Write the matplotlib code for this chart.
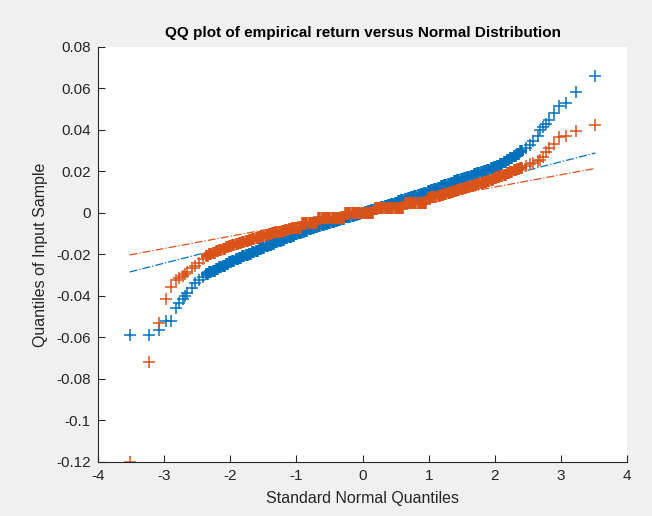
import matplotlib
matplotlib.use("Agg")
import matplotlib.pyplot as plt

# theoretical (standard normal) quantiles shared by the dense middle part
body_q = [-2.35, -2.30, -2.25, -2.20, -2.15, -2.10, -2.05, -2.00, -1.95, -1.90,
          -1.85, -1.80, -1.75, -1.70, -1.65, -1.60, -1.55, -1.50, -1.45, -1.40,
          -1.35, -1.30, -1.25, -1.20, -1.15, -1.10, -1.05, -1.00, -0.95, -0.90,
          -0.85, -0.80, -0.75, -0.70, -0.65, -0.60, -0.55, -0.50, -0.45, -0.40,
          -0.35, -0.30, -0.25, -0.20, -0.15, -0.10, -0.05, 0.00, 0.05, 0.10,
          0.15, 0.20, 0.25, 0.30, 0.35, 0.40, 0.45, 0.50, 0.55, 0.60,
          0.65, 0.70, 0.75, 0.80, 0.85, 0.90, 0.95, 1.00, 1.05, 1.10,
          1.15, 1.20, 1.25, 1.30, 1.35, 1.40, 1.45, 1.50, 1.55, 1.60,
          1.65, 1.70, 1.75, 1.80, 1.85, 1.90, 1.95, 2.00, 2.05, 2.10,
          2.15, 2.20, 2.25, 2.30, 2.35, 2.40]
left_q = [-3.52, -3.22, -3.07, -2.965, -2.89, -2.825, -2.77, -2.72, -2.68, -2.645,
          -2.58, -2.525, -2.47, -2.41]
right_q = [2.47, 2.525, 2.58, 2.645, 2.68, 2.72, 2.77, 2.825, 2.89, 2.965,
           3.07, 3.22, 3.52]

# sample quantiles, series 1 (blue)
blue_body = [-0.0296, -0.0287, -0.0278, -0.0270, -0.0262, -0.0254, -0.0246, -0.0238, -0.0231, -0.0224,
             -0.0217, -0.0210, -0.0203, -0.0196, -0.0189, -0.0182, -0.0175, -0.0168, -0.0161, -0.0154,
             -0.0148, -0.0142, -0.0136, -0.0129, -0.0122, -0.0116, -0.0110, -0.0104, -0.0098, -0.0092,
             -0.0086, -0.0080, -0.0074, -0.0068, -0.0062, -0.0057, -0.0052, -0.0047, -0.0042, -0.0037,
             -0.0032, -0.0027, -0.0022, -0.0018, -0.0013, -0.0009, -0.0004, 0.0000, 0.0005, 0.0010,
             0.0015, 0.0020, 0.0025, 0.0030, 0.0035, 0.0040, 0.0045, 0.0050, 0.0055, 0.0060,
             0.0065, 0.0070, 0.0075, 0.0081, 0.0086, 0.0092, 0.0098, 0.0104, 0.0110, 0.0116,
             0.0122, 0.0128, 0.0134, 0.0140, 0.0146, 0.0152, 0.0158, 0.0164, 0.0169, 0.0175,
             0.0180, 0.0186, 0.0191, 0.0197, 0.0203, 0.0209, 0.0215, 0.0221, 0.0228, 0.0236,
             0.0244, 0.0253, 0.0263, 0.0274, 0.0286, 0.0298]
blue_left = [-0.0588, -0.0588, -0.0564, -0.0522, -0.0520, -0.0458, -0.0435, -0.0415, -0.0400, -0.0385,
             -0.0360, -0.0340, -0.0325, -0.0310]
blue_right = [0.0312, 0.0328, 0.0345, 0.0372, 0.0398, 0.0412, 0.0430, 0.0450, 0.0482, 0.0515,
              0.0528, 0.0584, 0.0660]

# sample quantiles, series 2 (orange)
orange_body = [-0.0208, -0.0200, -0.0193, -0.0186, -0.0179, -0.0172, -0.0166, -0.0160, -0.0155, -0.0150,
               -0.0145, -0.0140, -0.0135, -0.0130, -0.0125, -0.0120, -0.0115, -0.0110, -0.0106, -0.0102,
               -0.0098, -0.0094, -0.0090, -0.0086, -0.0082, -0.0078, -0.0074, -0.0072, -0.0072, -0.0048,
               -0.0048, -0.0048, -0.0048, -0.0048, -0.0024, -0.0024, -0.0024, -0.0024, -0.0024, -0.0024,
               -0.0024, -0.0024, 0.0, 0.0, 0.0, 0.0, 0.0, 0.0, 0.0, 0.0,
               0.0, 0.0024, 0.0024, 0.0024, 0.0024, 0.0024, 0.0024, 0.0024, 0.0024, 0.0024,
               0.0048, 0.0048, 0.0048, 0.0048, 0.0048, 0.0048, 0.0048, 0.0072, 0.0075, 0.0079,
               0.0083, 0.0087, 0.0091, 0.0096, 0.0100, 0.0105, 0.0110, 0.0115, 0.0120, 0.0125,
               0.0130, 0.0135, 0.0140, 0.0145, 0.0150, 0.0155, 0.0160, 0.0166, 0.0172, 0.0178,
               0.0185, 0.0192, 0.0199, 0.0206, 0.0212, 0.0218]
orange_left = [-0.1203, -0.0717, -0.0530, -0.0414, -0.0358, -0.0325, -0.0315, -0.0306, -0.0296, -0.0285,
               -0.0268, -0.0255, -0.0240, -0.0222]
orange_right = [0.0226, 0.0234, 0.0242, 0.0250, 0.0256, 0.0270, 0.0292, 0.0315, 0.0330, 0.0364,
                0.0370, 0.0394, 0.0423]

# first / third sample quartiles used for the reference lines
blue_quart = [-0.0053, 0.0057]
orange_quart = [-0.0034, 0.0046]
z_quart = [-0.6745, 0.6745]

xticks = [-4, -3, -2, -1, 0, 1, 2, 3, 4]
yticks = [0.08, 0.06, 0.04, 0.02, 0, -0.02, -0.04, -0.06, -0.08, -0.1, -0.12]
ytick_labels = ["0.08", "0.06", "0.04", "0.02", "0", "-0.02", "-0.04", "-0.06", "-0.08", "-0.1", "-0.12"]

blue = "#0072BD"
orange = "#D95319"
dark = "#262626"

plt.rcParams["font.family"] = ["Liberation Sans", "DejaVu Sans"]

fig = plt.figure(figsize=(6.52, 5.16), dpi=100, facecolor="#F0F0F0")
ax = fig.add_axes([0.150, 0.105, 0.812, 0.804])
ax.set_facecolor("white")


def ref_line(quart, qs):
    # line through the quartile points, drawn over the full range of theoretical quantiles
    slope = (quart[1] - quart[0]) / (z_quart[1] - z_quart[0])
    icpt = quart[0] - slope * z_quart[0]
    lo, hi = min(qs), max(qs)
    return [lo, hi], [icpt + slope * lo, icpt + slope * hi]


all_q = left_q + body_q + right_q

# reference lines sit underneath the markers
for quart, col in [(blue_quart, blue), (orange_quart, orange)]:
    lx, ly = ref_line(quart, all_q)
    ax.plot(lx, ly, "-.", color=col, linewidth=0.9, zorder=1)

series = [(blue_left, blue_body, blue_right, blue),
          (orange_left, orange_body, orange_right, orange)]
for yl, yb, yr, col in series:
    ax.plot(left_q + right_q, yl + yr, "+", color=col, markersize=8.5, markeredgewidth=1.1, zorder=2)
    # the middle is so crowded in the original that the markers merge into a solid band
    ax.plot(body_q, yb, "+", color=col, markersize=9, markeredgewidth=2.6, zorder=2)

ax.set_xlim(-4, 4)
ax.set_ylim(-0.12, 0.08)
ax.set_xticks(xticks)
ax.set_xticklabels([str(t) for t in xticks])
ax.set_yticks(yticks)
ax.set_yticklabels(ytick_labels)

for s in ["top", "right"]:
    ax.spines[s].set_visible(False)
for s in ["left", "bottom"]:
    ax.spines[s].set_color(dark)
    ax.spines[s].set_linewidth(0.8)
ax.tick_params(direction="in", length=5, width=0.8, colors=dark, labelsize=11, pad=5)

ax.set_title("QQ plot of empirical return versus Normal Distribution",
             fontsize=11, fontweight="bold", color="black", pad=7)
ax.set_xlabel("Standard Normal Quantiles", fontsize=11.5, color=dark, labelpad=6)
ax.set_ylabel("Quantiles of Input Sample", fontsize=11.5, color=dark, labelpad=6)

fig.savefig("out.png", dpi=100, facecolor=fig.get_facecolor())
